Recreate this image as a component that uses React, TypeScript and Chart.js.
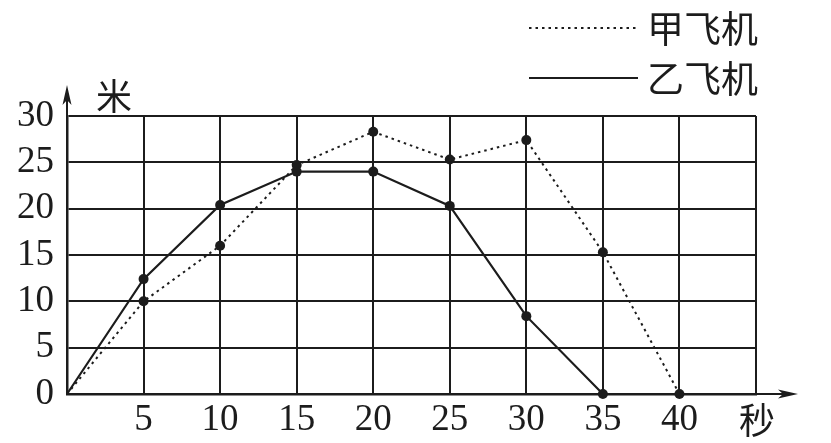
import React, { useEffect, useRef } from "react";
import { Chart, registerables } from "chart.js";

Chart.register(...registerables);

// ---- data ----
const xTickValues = [0, 5, 10, 15, 20, 25, 30, 35, 40, 45];
const xTickLabels = ["", "5", "10", "15", "20", "25", "30", "35", "40", ""];
const yTickValues = [0, 5, 10, 15, 20, 25, 30];
const jiaName = "甲飞机";
const yiName = "乙飞机";
const jiaX = [0, 5, 10, 15, 20, 25, 30, 35, 40];
const jiaY = [0, 10, 16, 24.7, 28.3, 25.3, 27.4, 15.3, 0];
const yiX = [0, 5, 10, 15, 20, 25, 30, 35];
const yiY = [0, 12.4, 20.4, 24, 24, 20.3, 8.4, 0];
const yAxisLabel = "米";
const xAxisLabel = "秒";

const INK = "#1c1c1c";
const SERIF = '"Liberation Serif", "DejaVu Serif", serif';
const CJK = '"Noto Sans CJK SC", "Noto Sans CJK JP", sans-serif';

const overlay = {
  id: "overlay",
  afterDraw(chart: any) {
    const ctx = chart.ctx as CanvasRenderingContext2D;
    const xs = chart.scales.x;
    const ys = chart.scales.y;
    const left = xs.left;
    const right = xs.right;
    const top = ys.top;
    const bottom = ys.bottom;
    ctx.save();
    ctx.strokeStyle = INK;
    ctx.fillStyle = INK;
    ctx.lineWidth = 2;
    // x arrow
    const xTip = right + 42;
    ctx.beginPath();
    ctx.moveTo(right, bottom);
    ctx.lineTo(xTip - 8, bottom);
    ctx.stroke();
    ctx.beginPath();
    ctx.moveTo(xTip, bottom);
    ctx.lineTo(xTip - 20, bottom - 4.5);
    ctx.lineTo(xTip - 15, bottom);
    ctx.lineTo(xTip - 20, bottom + 4.5);
    ctx.closePath();
    ctx.fill();
    // y arrow
    const yTip = top - 31;
    ctx.beginPath();
    ctx.moveTo(left, top);
    ctx.lineTo(left, yTip + 8);
    ctx.stroke();
    ctx.beginPath();
    ctx.moveTo(left, yTip);
    ctx.lineTo(left - 4.5, yTip + 20);
    ctx.lineTo(left, yTip + 15);
    ctx.lineTo(left + 4.5, yTip + 20);
    ctx.closePath();
    ctx.fill();

    // axis labels
    ctx.font = `36px ${CJK}`;
    ctx.textAlign = "center";
    ctx.textBaseline = "middle";
    ctx.fillText(yAxisLabel, left + 47, top - 20);
    ctx.fillText(xAxisLabel, right + 1, bottom + 26);

    // legend
    const lx0 = right - 227;
    const lx1 = right - 118;
    const ly1 = top - 88;
    const ly2 = top - 38;
    ctx.lineWidth = 2;
    ctx.setLineDash([2.5, 4]);
    ctx.beginPath();
    ctx.moveTo(lx0, ly1);
    ctx.lineTo(lx1, ly1);
    ctx.stroke();
    ctx.setLineDash([]);
    ctx.beginPath();
    ctx.moveTo(lx0, ly2);
    ctx.lineTo(lx1, ly2);
    ctx.stroke();
    ctx.textAlign = "left";
    ctx.font = `37px ${CJK}`;
    ctx.fillText(jiaName, lx1 + 9, ly1 + 1);
    ctx.fillText(yiName, lx1 + 9, ly2 + 1);
    ctx.restore();
  },
};

export default function App() {
  const ref = useRef<HTMLCanvasElement | null>(null);
  useEffect(() => {
    if (!ref.current) return;
    const chart = new Chart(ref.current, {
      type: "line",
      data: {
        datasets: [
          {
            label: jiaName,
            data: jiaX.map((x, i) => ({ x, y: jiaY[i] })),
            borderColor: INK,
            backgroundColor: INK,
            borderWidth: 2,
            borderDash: [2.5, 4],
            pointRadius: (c: any) => (c.dataIndex === 0 ? 0 : 5),
            pointBackgroundColor: INK,
            pointBorderWidth: 0,
            tension: 0,
            clip: false as any,
          },
          {
            label: yiName,
            data: yiX.map((x, i) => ({ x, y: yiY[i] })),
            borderColor: INK,
            backgroundColor: INK,
            borderWidth: 2.2,
            pointRadius: (c: any) => (c.dataIndex === 0 ? 0 : 5),
            pointBackgroundColor: INK,
            pointBorderWidth: 0,
            tension: 0,
            clip: false as any,
          },
        ],
      },
      options: {
        animation: false,
        responsive: false,
        devicePixelRatio: 1,
        layout: { padding: { left: 0, top: 116, right: 75, bottom: 0 } },
        plugins: { legend: { display: false }, tooltip: { enabled: false } },
        scales: {
          x: {
            type: "linear",
            min: 0,
            max: 45,
            afterFit: (s: any) => {
              s.height = 49;
            },
            afterBuildTicks: (s: any) => {
              s.ticks = xTickValues.map((v) => ({ value: v }));
            },
            ticks: {
              color: INK,
              font: { family: SERIF, size: 37 },
              padding: 4,
              maxRotation: 0,
              autoSkip: false,
              callback: (v: any) => xTickLabels[xTickValues.indexOf(Number(v))] ?? "",
            },
            grid: { color: INK, lineWidth: 2, drawTicks: false },
            border: { color: INK, width: 2.5 },
          },
          y: {
            type: "linear",
            min: 0,
            max: 30,
            afterFit: (s: any) => {
              s.width = 67;
            },
            afterBuildTicks: (s: any) => {
              s.ticks = yTickValues.map((v) => ({ value: v }));
            },
            ticks: {
              color: INK,
              font: { family: SERIF, size: 37 },
              padding: 13,
              autoSkip: false,
            },
            grid: { color: INK, lineWidth: 2, drawTicks: false },
            border: { color: INK, width: 2.5 },
          },
        },
      },
      plugins: [overlay],
    } as any);
    return () => chart.destroy();
  }, []);
  return (
    <div style={{ position: "absolute", left: 0, top: 0, width: 831, height: 443, background: "#fff" }}>
      <canvas ref={ref} width={831} height={443} style={{ display: "block" }} />
    </div>
  );
}
